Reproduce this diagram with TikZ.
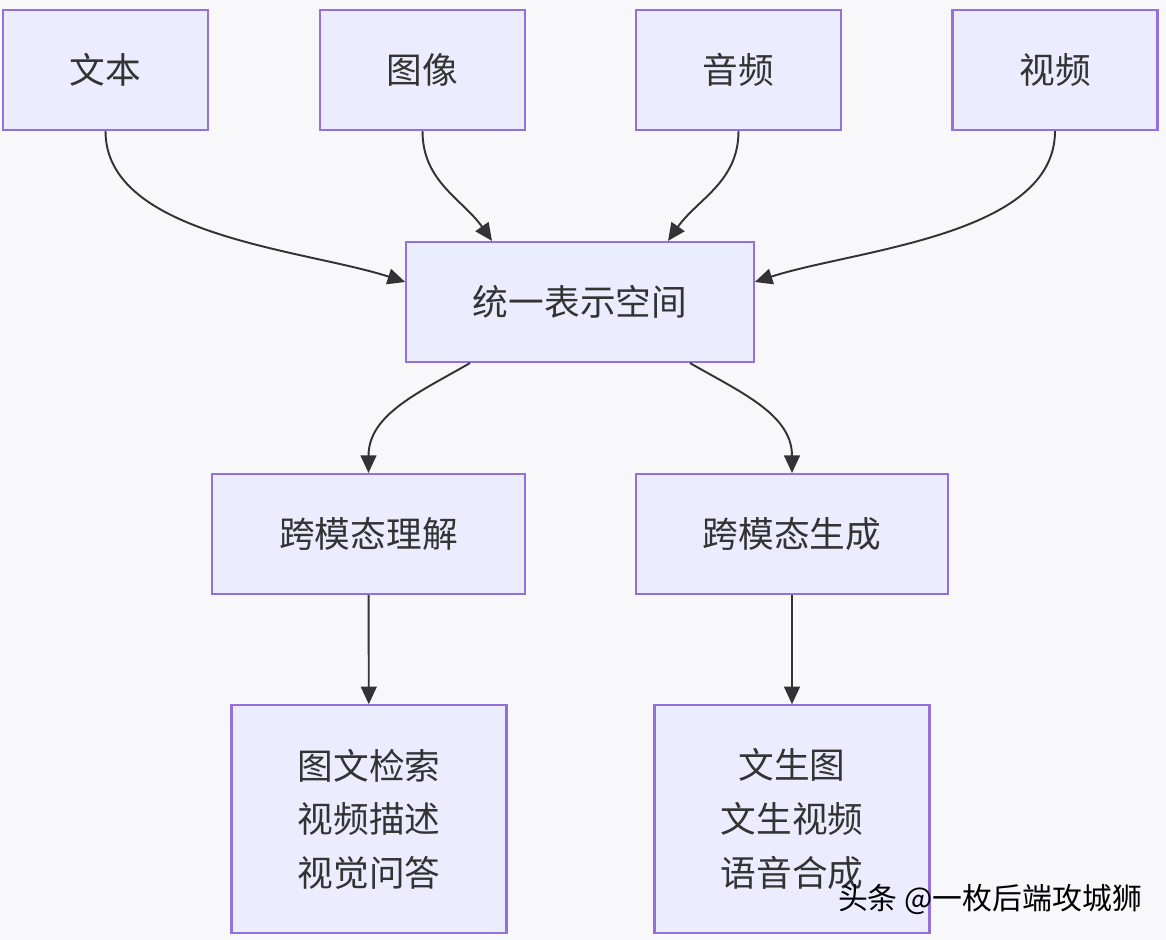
\documentclass[tikz,border=0pt]{standalone}
\usepackage{fontspec}
\setmainfont{Noto Sans CJK SC}
\usepackage{xcolor}
\usetikzlibrary{positioning,arrows.meta,calc}
\definecolor{boxfill}{HTML}{ECECFF}
\definecolor{boxline}{HTML}{9370DB}
\definecolor{linkcolor}{HTML}{333333}
\definecolor{bgcolor}{HTML}{F8F8FB}
\tikzset{
    modal box/.style={rectangle, draw=boxline, fill=boxfill, line width=1.2pt, minimum width=4.1cm, minimum height=2.4cm, font=\fontsize{20.3}{30.5}\selectfont, text=linkcolor, align=center},
    wide box/.style={modal box, minimum width=6.25cm},
    task box/.style={modal box, minimum width=5.5cm, minimum height=4.55cm},
    link/.style={-{Triangle[length=10pt,width=9pt]}, line width=1.1pt, linkcolor},
    mark text/.style={font=\fontsize{17}{19}\selectfont, text=black}
}
\begin{document}
\begin{tikzpicture}
    % page and background
    \useasboundingbox[fill=bgcolor] (0,0) rectangle (23.32,-18.8);

    % modalities
    \node[modal box] (text) at (2.11,-1.4) {文本};
    \node[modal box] (image) at (8.45,-1.4) {图像};
    \node[modal box] (audio) at (14.77,-1.4) {音频};
    \node[modal box] (video) at (21.1,-1.4) {视频};

    % shared space
    \node[modal box, minimum width=6.95cm] (space) at (11.6,-6.04) {统一表示空间};

    % understanding and generation
    \node[wide box] (under) at (7.37,-10.68) {跨模态理解};
    \node[wide box] (gen) at (15.84,-10.68) {跨模态生成};

    % tasks
    \node[task box] (utask) at (7.38,-16.38) {图文检索\\视频描述\\视觉问答};
    \node[task box] (gtask) at (15.84,-16.38) {文生图\\文生视频\\语音合成};

    % modalities into the space
    \draw[link] (text.south) to[out=-90, in=162, looseness=0.8] ($(space.west)+(0,0.4)$);
    \draw[link] (image.south) to[out=-90, in=125] ($(space.north)+(-1.76,0)$);
    \draw[link] (audio.south) to[out=-90, in=55] ($(space.north)+(1.76,0)$);
    \draw[link] (video.south) to[out=-90, in=18, looseness=0.8] ($(space.east)+(0,0.4)$);

    % space into the two branches
    \draw[link] ($(space.south)+(-2.2,0)$) to[out=-150, in=90] (under.north);
    \draw[link] ($(space.south)+(2.2,0)$) to[out=-30, in=90] (gen.north);

    % branches into tasks
    \draw[link] (under) -- (utask);
    \draw[link] (gen) -- (gtask);

    % watermark
    \node[mark text] (mark) at (19.8,-18.0) {头条 @一枚后端攻城狮};
\end{tikzpicture}
\end{document}
